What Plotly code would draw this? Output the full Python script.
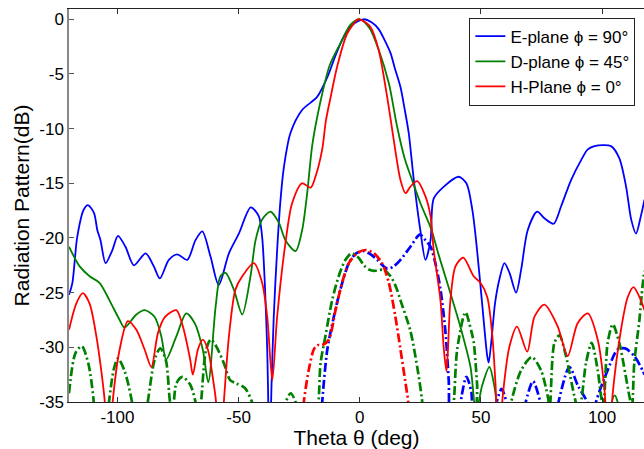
import plotly.graph_objects as go

# ---- data (Theta in deg, pattern in dB) ----
e_x = [-120, -118.6, -116.6, -113.9, -112.2, -109.7, -108.3, -107, -104.9, -102.1, -99.8, -96.7, -93.2, -88.4, -85,
       -82.5, -78.8, -75.3, -71.2, -67.8, -65, -61.6, -58.2, -54, -49.9, -45, -41.7, -40.3, -39.2, -38.2, -37.2,
       -36.4, -35.5, -34.1, -32.7, -31.3, -28.6, -23.8, -17.6, -13.2, -10, -6.6, -3, 1.5, 5, 7.8, 10, 12.7, 14.5,
       16.8, 18.5, 20.2, 22.3, 25, 27.1, 29.2, 30.5, 34.7, 40.8, 44, 46.5, 48.4, 50.5, 52.6, 53.2, 54.5, 55.8,
       57.6, 59.7, 61.8, 64.5, 66.6, 69.3, 73.2, 76.2, 80, 83.1, 87.2, 91.3, 94.1, 96.8, 100.5, 103.7, 107.1,
       109.9, 112, 114, 116, 117.5]
e_y = [-25.2, -24.1, -19.9, -17.4, -17.0, -17.7, -19.3, -20.2, -22.3, -21.1, -19.8, -20.8, -22.5, -21.4, -22.6,
       -23.7, -22.0, -21.5, -22.0, -20.2, -19.4, -21.7, -24.3, -21.4, -19.6, -17.2, -18.0, -19.9, -24.1, -30.2, -40,
       -33.3, -27.2, -21.1, -16.5, -13.5, -10.4, -8.3, -7.1, -5.2, -3.3, -1.6, -0.5, 0.0, -0.3, -0.9, -1.8, -3.1, -4.5,
       -6.2, -8.2, -10.4, -14.7, -19.3, -22.0, -20.2, -16.4, -15.3, -14.4, -15.0, -17.5, -21.1, -26.0, -30.8, -31.4,
       -29.0, -26.0, -23.8, -22.3, -23.2, -25.0, -22.9, -19.3, -17.6, -18.2, -18.7, -17.1, -14.7, -12.9, -11.9,
       -11.6, -11.5, -11.6, -12.7, -15.3, -18.3, -19.6, -18.0, -16.5]

d_x = [-120, -115.6, -111.5, -107.4, -103.3, -99.1, -97.1, -92.2, -88.8, -84.7, -81.9, -79.9, -75.7, -71.6, -68.1,
       -64.8, -62.5, -59.5, -57.5, -55.4, -52, -48.5, -45.1, -43, -40.3, -36.8, -33.4, -30.7, -26.5, -23.8, -21.7,
       -19.6, -16.2, -12.4, -8, -3.8, 0, 4, 7.8, 12, 15.4, 18.5, 21.6, 25, 29.5, 32.5, 36.1, 41.5, 45.7, 48,
       50.5, 53.5, 55.5, 57, 60, 100, 103, 105.2, 107.5, 110, 117.5]
d_y = [-20.8, -22.6, -23.5, -24.1, -25.7, -27.5, -28.2, -27.0, -26.6, -27.2, -29.0, -31.1, -29.0, -26.9, -27.8,
       -30.2, -33.2, -26.3, -23.5, -23.2, -24.7, -27.0, -23.5, -20.2, -18.3, -17.6, -18.6, -20.2, -21.2, -19.3,
       -15.9, -11.5, -7.5, -4.2, -2.2, -0.5, 0.0, -0.8, -2.8, -5.85, -9.8, -12.7, -14.7, -16.8, -19.2, -21.5, -24.1,
       -28.1, -31.8, -36, -33.5, -31.8, -33.5, -36, -42, -42, -36, -34.4, -36, -42, -42]

h_x = [-120, -117, -114.3, -111.5, -108.7, -106.7, -105.3, -103.6, -101.9, -99.1, -95.7, -92.2, -88.8, -86, -83.3,
       -80.3, -75.7, -73, -70, -68.9, -66.8, -64.8, -62.7, -60.5, -59.3, -57.8, -56.1, -54, -51.3, -48.5, -43.7,
       -40.3, -38.2, -36.1, -34.1, -30.7, -27.9, -23.8, -20.3, -18.3, -15.5, -14, -12.1, -9.3, -5.2, -1, 0, 4.4,
       7.8, 11.3, 14, 16.8, 18.9, 20.9, 23.7, 27.1, 29.2, 30.5, 33.3, 34.7, 35.8, 37.4, 39.5, 42.7, 47, 49.8, 52.6,
       54.6, 56, 57.3, 59, 61.8, 64.9, 69.1, 72.1, 76.2, 81.7, 85.8, 89.9, 94.1, 98.2, 101, 102.7, 104.4, 107.8,
       110.6, 113, 116, 117.5]
h_y = [-28.4, -26.0, -25.05, -26.0, -29.0, -32.1, -34.8, -40, -34.8, -30.2, -27.6, -28.4, -30.2, -31.8, -28.7,
       -27.2, -26.6, -28.1, -31.1, -32.5, -30.2, -29.3, -30.2, -33.0, -35.0, -40, -35.0, -29.0, -24.7, -23.5, -22.3,
       -24.1, -27.2, -33.0, -27.2, -20.5, -16.8, -15.0, -15.4, -14.4, -11.9, -9.3, -7.2, -4.3, -1.3, -0.05, 0.0,
       -0.7, -2.8, -7.1, -11.0, -14.7, -15.9, -15.3, -14.8, -16.2, -18.0, -21.1, -25.7, -30.2, -32.2, -25.7, -22.6,
       -21.8, -23.5, -24.1, -25.4, -28.7, -33.3, -40, -34.5, -29.9, -28.1, -30.4, -27.2, -26.1, -28.1, -30.8, -27.8,
       -26.9, -29.3, -33.9, -40, -34.2, -28.4, -25.4, -24.5, -25.7, -26.6]

ex_x = [-17, -15.5, -13.4, -10.7, -8, -4.5, -1.5, 1.7, 4.5, 7.2, 11.3, 14, 16.8, 20.9, 24.8, 27.1, 29.2, 31.2, 33.3,
        35.4, 36.7, 37.8, 40.5, 42, 44, 46, 47.5, 55, 56.5, 58.5, 60.5, 62, 67, 68.5, 71.5, 74.5, 76, 80, 82, 86.5,
        90, 93.8, 95.5, 96, 97.5, 102.3, 106.4, 109.5, 113.3, 116.7, 117.5]
ex_y = [-40, -35, -30.2, -27.2, -24.7, -22.3, -21.4, -21.2, -21.5, -22.0, -22.8, -22.6, -22.0, -20.8, -19.7, -20.2,
        -20.8, -22.3, -24.7, -28.7, -33.0, -37, -37, -34.5, -32.7, -34.0, -37, -37, -35, -33.8, -35, -37, -37, -35,
        -33.1, -35, -37, -37, -35, -31.8, -33.5, -35, -37, -37, -35, -32.1, -30.2, -30.1, -30.8, -32.1, -32.5]

dx_x = [-120, -117.3, -114.7, -112, -110, -108, -106, -103.5, -101.5, -99.8, -97, -94, -91, -87.5, -84.5, -82.3, -80,
        -78.3, -77.2, -75.7, -73.2, -70, -67.8, -66.7, -65.5, -63.5, -61.5, -59.5, -56, -53.5, -51, -47.5, -44.5,
        -42, -32, -30.5, -28.5, -26.5, -24, -18.5, -17, -16.2, -14.2, -11.4, -8.7, -5.9, -3.3, -0.5, 1.7, 4, 6,
        9.9, 12.7, 15, 16.8, 20.9, 23.7, 25.7, 27, 37, 38.8, 40.2, 43.6, 46, 47, 48.4, 49.5, 61, 62.5, 66.6, 71,
        74.8, 77.6, 78.4, 80.3, 82.4, 85.1, 88.6, 90.5, 93.4, 95.7, 98.2, 99.6, 100.5, 102.3, 104.4, 107.1, 111.3,
        112.3, 113.3, 115.4, 116.7, 117.5]
dx_y = [-34.2, -30.5, -29.9, -31.5, -34.5, -40, -40, -35, -32, -31.0, -32.2, -35, -40, -35, -31, -30.1, -31.2,
        -35, -36, -33.3, -32.7, -33.4, -35, -37, -35, -30.3, -29.3, -29.8, -31.5, -33.0, -33.3, -33.7, -35, -38,
        -38, -35, -34.2, -35, -38, -38, -35, -31.5, -29.0, -25.7, -23.5, -22.0, -21.4, -21.8, -22.5, -22.9, -23.0,
        -22.9, -23.5, -24.5, -25.7, -28.5, -31.8, -34.8, -38, -38, -35, -30.2, -26.8, -28.5, -29.5, -33.3, -37,
        -37, -35, -32.1, -30.9, -32.1, -34.5, -35.5, -29.6, -28.9, -30.8, -34.5, -36, -31.4, -29.6, -32.1, -34.5,
        -35.5, -29.6, -27.9, -29.6, -34.5, -35.5, -31.4, -27.5, -24.4, -23.0]

hx_x = [-25, -23.1, -21, -19, -17.5, -15.5, -12.8, -10, -7.3, -4.5, -1.1, 2.4, 5.8, 9.2, 12, 14.7, 16.8, 18.9,
        20, 21.5]
hx_y = [-40, -35, -32, -30.2, -29.8, -29.8, -29.3, -26.6, -24.1, -22.3, -21.4, -21.1, -21.4, -22.3, -24.1, -27.2,
        -30.2, -33.3, -35, -40]

x_ticks = [-100, -50, 0, 50, 100]
x_tick_text = ["-100", "-50", "0", "50", "100"]
y_ticks = [0, -5, -10, -15, -20, -25, -30, -35]
y_tick_text = ["0", "-5", "-10", "-15", "-20", "-25", "-30", "-35"]

names = ["E-plane \u03d5 = 90\u00b0", "D-plane \u03d5 = 45\u00b0", "H-Plane \u03d5 = 0\u00b0"]
colors = ["#0000FF", "#008000", "#FF0000"]

fig = go.Figure()
dd = "9px,3px,2px,3px"
for xs, ys, c in [(ex_x, ex_y, colors[0]), (dx_x, dx_y, colors[1]), (hx_x, hx_y, colors[2])]:
    fig.add_trace(go.Scatter(x=xs, y=ys, mode="lines", showlegend=False, hoverinfo="skip",
                             line=dict(color=c, width=2.7, dash=dd, shape="spline", smoothing=0.8)))
for xs, ys, c, n in [(e_x, e_y, colors[0], names[0]), (d_x, d_y, colors[1], names[1]), (h_x, h_y, colors[2], names[2])]:
    fig.add_trace(go.Scatter(x=xs, y=ys, mode="lines", name=n,
                             line=dict(color=c, width=1.8, shape="spline", smoothing=0.8)))

fig.update_layout(
    width=644, height=449,
    margin=dict(l=69, r=0, t=9, b=47),
    paper_bgcolor="white", plot_bgcolor="white",
    font=dict(family="Liberation Sans, Arial, sans-serif", size=17, color="#000"),
    legend=dict(x=0.985, y=0.978, xanchor="right", yanchor="top", bgcolor="white",
                bordercolor="#222", borderwidth=1, font=dict(size=17), tracegroupgap=0,
                traceorder="normal"),
    xaxis=dict(range=[-120, 117.3], tickvals=x_ticks, ticktext=x_tick_text, ticks="inside", ticklen=5,
               tickcolor="#333", showline=True, linecolor="#222", linewidth=1, mirror="ticks",
               showgrid=False, zeroline=False,
               title=dict(text="Theta \u03b8 (deg)", font=dict(size=21), standoff=6)),
    yaxis=dict(range=[-35, 0.94], tickvals=y_ticks, ticktext=y_tick_text, ticks="inside", ticklen=5,
               tickcolor="#555", showline=True, linecolor="#888", linewidth=1.5,
               showgrid=False, zeroline=False,
               title=dict(text="Radiation Pattern(dB)", font=dict(size=21), standoff=4)),
)

fig.write_html("out.html", config={"displayModeBar": False},
               post_script="document.body.style.margin='0';document.documentElement.style.overflow='hidden';")
